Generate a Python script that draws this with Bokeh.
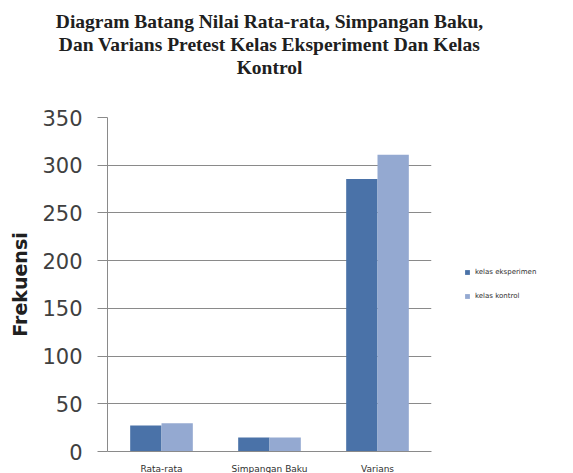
from bokeh.plotting import figure
from bokeh.models import Legend, LegendItem, Title, ColumnDataSource, FactorRange
from bokeh.transform import dodge
from bokeh.embed import file_html
from bokeh.resources import INLINE

categories = ["Rata-rata", "Simpangan Baku", "Varians"]
eksperimen = [27.3, 14.8, 285.5]
kontrol = [29.7, 14.8, 311.0]
series_names = ["kelas eksperimen", "kelas kontrol"]
y_ticks = [0, 50, 100, 150, 200, 250, 300, 350]
title_lines = ["Diagram Batang Nilai Rata-rata, Simpangan Baku,",
               "Dan Varians Pretest Kelas Eksperiment Dan Kelas",
               "Kontrol"]

src = ColumnDataSource(dict(cat=categories, eks=eksperimen, kon=kontrol))

p = figure(x_range=FactorRange(*categories, range_padding=0), y_range=(0, 350),
           frame_width=324, frame_height=334, output_backend="svg", toolbar_location=None,
           min_border_left=107, min_border_right=142, min_border_top=117,
           min_border_bottom=22)
p.outline_line_color = None
p.background_fill_color = "white"

r1 = p.vbar(x=dodge("cat", -0.145, range=p.x_range), top="eks", width=0.29,
            source=src, fill_color="#4A72A8", line_color=None)
r2 = p.vbar(x=dodge("cat", 0.145, range=p.x_range), top="kon", width=0.29,
            source=src, fill_color="#94A9D1", line_color=None)

p.xgrid.grid_line_color = None
p.ygrid.grid_line_color = "#8A8A8A"
p.ygrid.grid_line_width = 1

p.yaxis.ticker = y_ticks
p.yaxis.axis_line_color = "#8A8A8A"
p.yaxis.major_tick_line_color = "#8A8A8A"
p.yaxis.major_tick_out = 10
p.yaxis.major_tick_in = 0
p.yaxis.minor_tick_line_color = None
p.yaxis.major_label_text_font = "DejaVu Sans"
p.yaxis.major_label_text_font_size = "21px"
p.yaxis.major_label_text_color = "#404040"
p.yaxis.major_label_standoff = 15
p.yaxis.axis_label = "Frekuensi"
p.yaxis.axis_label_text_font = "DejaVu Sans"
p.yaxis.axis_label_text_font_style = "bold"
p.yaxis.axis_label_text_font_size = "19px"
p.yaxis.axis_label_text_color = "#202020"
p.yaxis.axis_label_standoff = 8

p.xaxis.axis_line_color = "#8A8A8A"
p.xaxis.major_tick_line_color = None
p.xaxis.minor_tick_line_color = None
p.xaxis.major_label_text_font = "DejaVu Sans"
p.xaxis.major_label_text_font_size = "9px"
p.xaxis.major_label_text_color = "#303030"
p.xaxis.major_label_standoff = 6

spacer = Title(text=" ", text_font_size="34px", text_line_height=1.0, standoff=0, offset=0)
p.add_layout(spacer, "above")
for line in reversed(title_lines):
    t = Title(text=line, align="center", text_font="Liberation Serif",
              text_font_size="19.5px", text_font_style="bold", text_color="#202020",
              standoff=0, offset=0)
    p.add_layout(t, "above")

legend = Legend(items=[LegendItem(label=series_names[0], renderers=[r1]),
                       LegendItem(label=series_names[1], renderers=[r2])],
                location="center_left", glyph_width=6, glyph_height=6,
                label_text_font="DejaVu Sans", label_text_font_size="7px",
                label_text_color="#303030", label_height=8, spacing=16,
                label_standoff=5, border_line_color=None, margin=33, padding=5,
                background_fill_alpha=0)
p.add_layout(legend, "right")

open("out.html", "w").write(file_html(p, INLINE))
